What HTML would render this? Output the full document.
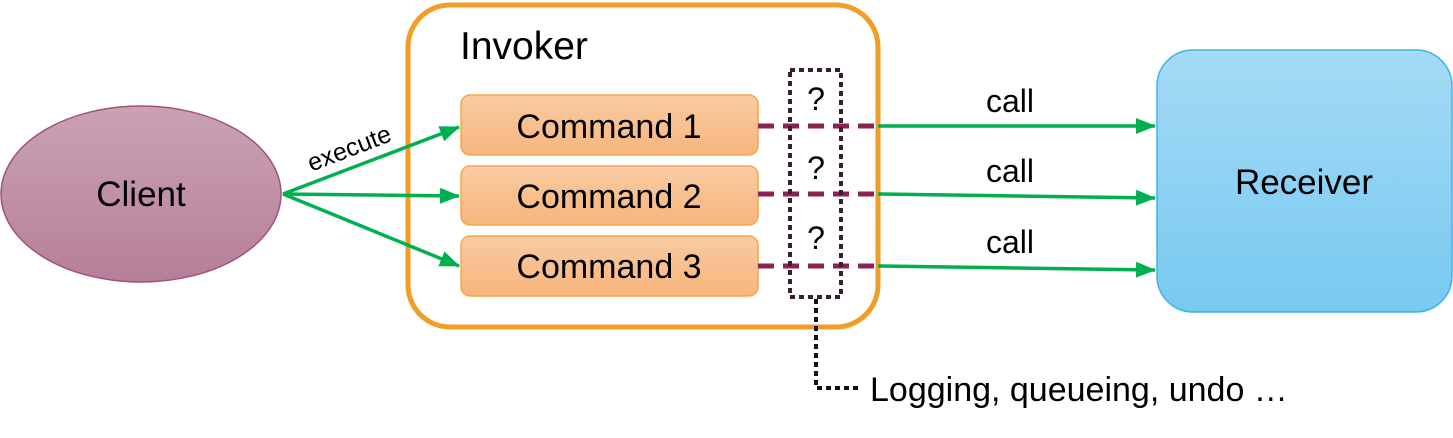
<!DOCTYPE html>
<html><head><style>body{margin:0;background:#fff}</style></head><body>
<svg width="1453" height="433" xmlns="http://www.w3.org/2000/svg" font-family="Liberation Sans, sans-serif">
<defs>
<linearGradient id="cg" x1="0" y1="0" x2="0" y2="1"><stop offset="0" stop-color="#caa2b4"/><stop offset="1" stop-color="#b67f98"/></linearGradient>
<linearGradient id="og" x1="0" y1="0" x2="0" y2="1"><stop offset="0" stop-color="#f9cba3"/><stop offset="1" stop-color="#f7b57c"/></linearGradient>
<linearGradient id="bg" x1="0" y1="0" x2="0" y2="1"><stop offset="0" stop-color="#a4dbf5"/><stop offset="1" stop-color="#78c9f1"/></linearGradient>
<marker id="ar2" markerWidth="20" markerHeight="16" refX="19" refY="8" orient="auto" markerUnits="userSpaceOnUse"><path d="M0,0 L20,8 L0,16 z" fill="#00b050"/></marker>
</defs>
<ellipse cx="141" cy="194" rx="140" ry="88" fill="url(#cg)" stroke="#a0527a" stroke-width="1.5"/>
<text x="141" y="206" font-size="35" text-anchor="middle">Client</text>
<rect x="408" y="5" width="470" height="322" rx="42" fill="none" stroke="#f29e26" stroke-width="5"/>
<text x="460" y="59" font-size="39">Invoker</text>
<g fill="url(#og)" stroke="#f5a846" stroke-width="1.5">
<rect x="461" y="95" width="297" height="60" rx="9"/>
<rect x="461" y="166" width="297" height="59" rx="9"/>
<rect x="461" y="236" width="297" height="60" rx="9"/>
</g>
<g font-size="34" text-anchor="middle">
<text x="609" y="138">Command 1</text>
<text x="609" y="208">Command 2</text>
<text x="609" y="278">Command 3</text>
</g>
<g stroke="#00b050" stroke-width="3.5" fill="none">
<line x1="283" y1="194" x2="459" y2="127" marker-end="url(#ar2)"/>
<line x1="283" y1="194" x2="459" y2="196" marker-end="url(#ar2)"/>
<line x1="283" y1="194" x2="459" y2="266" marker-end="url(#ar2)"/>
<line x1="878" y1="126" x2="1155" y2="126" marker-end="url(#ar2)"/>
<line x1="878" y1="194" x2="1155" y2="198" marker-end="url(#ar2)"/>
<line x1="878" y1="266" x2="1155" y2="270" marker-end="url(#ar2)"/>
</g>
<text x="302" y="155" font-size="25" transform="rotate(-21 352 138)">execute</text>
<g stroke="#8b2252" stroke-width="5" stroke-dasharray="16,9">
<line x1="758" y1="126" x2="878" y2="126"/>
<line x1="758" y1="194" x2="878" y2="194"/>
<line x1="758" y1="266" x2="878" y2="266"/>
</g>
<rect x="790" y="70" width="51" height="227" fill="none" stroke="#3a1f2c" stroke-width="4" stroke-dasharray="5,4"/>
<path d="M816,299 V388 H858" fill="none" stroke="#111" stroke-width="4" stroke-dasharray="5,4"/>
<g font-size="32" text-anchor="middle"><text x="816" y="110">?</text><text x="816" y="179">?</text><text x="816" y="249">?</text></g>
<g font-size="32" text-anchor="middle"><text x="1010" y="112">call</text><text x="1010" y="182">call</text><text x="1010" y="253">call</text></g>
<rect x="1157" y="50" width="295" height="262" rx="36" fill="url(#bg)" stroke="#3fb3e8" stroke-width="1.5"/>
<text x="1304" y="194" font-size="35" text-anchor="middle">Receiver</text>
<text x="870" y="401" font-size="34">Logging, queueing, undo …</text>
</svg>
</body></html>
